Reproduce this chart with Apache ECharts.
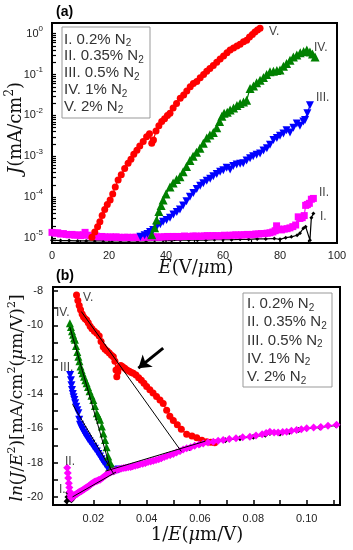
<!DOCTYPE html>
<html><head><meta charset="utf-8">
<script src="https://cdn.jsdelivr.net/npm/echarts@6/dist/echarts.min.js"></script>
<style>html,body{margin:0;padding:0;background:#fff}#c{width:353px;height:550px}</style>
</head><body><div id="c"></div>
<script>
// ---------- Panel (a): E (V/um) vs log10 J (mA/cm^2) ----------
const topV = [[14,-4.98],[15,-4.85],[16,-4.72],[16.8,-4.6],[17.6,-4.45],[18.5,-4.3],[19.4,-4.18],[20.4,-4.07],[21.3,-3.92],[22.2,-3.75],[23.2,-3.58],[24.3,-3.45],[25.5,-3.3],[26.7,-3.17],[27.7,-3.07],[28.7,-2.95],[29.8,-2.85],[30.8,-2.75],[32,-2.64],[33.2,-2.52],[34.2,-2.45],[35,-2.68],[35.6,-2.6],[36.5,-2.38],[37.5,-2.25],[38.5,-2.15],[39.5,-2.08],[40.5,-2.0],[41.4,-1.95],[42.5,-1.82],[43.7,-1.71],[45,-1.58],[46.2,-1.5],[47.3,-1.4],[48.5,-1.3],[49.6,-1.22],[50.8,-1.17],[52,-1.08],[53.2,-1.0],[54.3,-0.92],[55.4,-0.85],[56.6,-0.78],[57.8,-0.7],[59,-0.62],[60.2,-0.55],[61.4,-0.47],[62.5,-0.4],[63.7,-0.35],[64.9,-0.3],[66,-0.26],[67.2,-0.2],[68.3,-0.16],[69.3,-0.08],[70.3,-0.02],[71.2,0.04],[72.1,0.09],[73,0.13]];
const topIV = [[35,-4.92],[36,-4.75],[36.7,-4.56],[37.5,-4.35],[38.3,-4.2],[39,-4.07],[40,-3.92],[41.4,-3.75],[42.5,-3.65],[43.7,-3.57],[44.9,-3.5],[46,-3.38],[47.2,-3.25],[48.4,-3.1],[49.5,-3.0],[50.7,-2.9],[51.9,-2.8],[53.1,-2.68],[54.3,-2.55],[55.4,-2.48],[56.6,-2.42],[57.8,-2.3],[58.8,-2.15],[59.6,-2.02],[60.4,-1.95],[61.5,-1.92],[62.5,-1.87],[63.7,-1.82],[64.9,-1.76],[66,-1.71],[67.2,-1.67],[68.3,-1.63],[69.5,-1.34],[70.7,-1.28],[71.8,-1.2],[73,-1.14],[74.2,-1.07],[75.3,-1.0],[76.5,-0.93],[77.7,-0.92],[78.9,-0.9],[80,-0.89],[81.2,-0.8],[82.3,-0.73],[83.5,-0.65],[84.7,-0.57],[85.9,-0.52],[87.1,-0.47],[88.3,-0.44],[89.4,-0.4],[90.5,-0.45],[91.4,-0.5],[92.3,-0.57]];
const topIII = [[31,-4.97],[32.5,-4.93],[33.5,-4.9],[34.4,-4.85],[35.5,-4.8],[36.7,-4.73],[38,-4.66],[39,-4.6],[40.2,-4.56],[41.4,-4.5],[42.6,-4.42],[43.8,-4.36],[44.9,-4.3],[46,-4.2],[47.2,-4.1],[48.4,-3.99],[49.6,-3.9],[50.8,-3.8],[52,-3.72],[53.1,-3.66],[54.3,-3.6],[55.5,-3.55],[56.6,-3.49],[57.8,-3.43],[59,-3.38],[60.1,-3.34],[61.3,-3.28],[62.5,-3.32],[63.6,-3.24],[64.8,-3.2],[66,-3.18],[67.1,-3.17],[68.3,-3.1],[69.5,-3.05],[70.6,-3.0],[71.8,-2.96],[73,-2.93],[74.2,-2.86],[75.4,-2.8],[76.5,-2.72],[77.7,-2.6],[78.9,-2.55],[80,-2.5],[81.2,-2.44],[82.3,-2.36],[83.5,-2.42],[84.7,-2.3],[85.9,-2.2],[87,-2.25],[88.2,-2.15],[88.8,-2.11],[89.6,-1.95],[90.5,-1.75]];
const topII = [[0,-4.86],[1,-4.88],[2,-4.87],[3,-4.9],[4,-4.89],[5,-4.91],[6,-4.92],[7,-4.91],[8,-4.93],[9,-4.92],[10,-4.94],[11,-4.92],[11.6,-4.86],[12.5,-4.93],[13.5,-4.95],[14.5,-4.96],[15.5,-4.95],[16.5,-4.97],[17.5,-4.96],[18.5,-4.97],[19.5,-4.98],[20.5,-4.97],[21.5,-4.98],[22.5,-4.97],[23.5,-4.98],[24.5,-4.99],[25.5,-4.98],[26.5,-4.98],[27.5,-4.99],[28.5,-4.98],[29.5,-4.98],[30.5,-4.99],[31.5,-4.98],[32.5,-4.98],[33.5,-4.97],[34.5,-4.98],[35.5,-4.97],[36.5,-4.97],[37.5,-4.98],[38.5,-4.97],[39.5,-4.97],[40.5,-4.96],[41.5,-4.97],[42.5,-4.96],[43.5,-4.96],[44.5,-4.97],[45.5,-4.96],[46.5,-4.95],[47.5,-4.96],[48.5,-4.96],[49.5,-4.95],[50.5,-4.95],[51.5,-4.96],[52.5,-4.95],[53.5,-4.95],[54.5,-4.94],[55.5,-4.95],[56.5,-4.94],[57.5,-4.94],[58.5,-4.95],[59.5,-4.94],[60.5,-4.93],[61.5,-4.94],[62.5,-4.93],[63.5,-4.93],[64.5,-4.92],[65.5,-4.93],[66.5,-4.92],[67.5,-4.92],[68.5,-4.91],[69.5,-4.92],[70.5,-4.91],[71.5,-4.9],[72.5,-4.9],[73.5,-4.89],[74.5,-4.89],[75.5,-4.88],[76.5,-4.87],[77.5,-4.85],[78.3,-4.82],[78.8,-4.7],[79.5,-4.78],[80.5,-4.8],[81.5,-4.78],[82.5,-4.77],[83.5,-4.75],[84.5,-4.72],[85.5,-4.68],[86.4,-4.48],[87,-4.52],[87.8,-4.5],[88.5,-4.45],[89,-4.2],[89.6,-4.18],[90.3,-4.15],[91,-4.05],[91.7,-4.03]];
const topI = [[0,-5.05],[3,-5.06],[6,-5.06],[9,-5.07],[12,-5.07],[15,-5.07],[18,-5.07],[21,-5.07],[24,-5.07],[27,-5.07],[30,-5.07],[33,-5.07],[36,-5.06],[39,-5.06],[42,-5.06],[45,-5.05],[48,-5.05],[51,-5.05],[54,-5.05],[57,-5.04],[60,-5.04],[63,-5.04],[66,-5.03],[69,-5.03],[72,-5.02],[75,-5.02],[78,-5.01],[80,-5.03],[82,-4.99],[84,-4.97],[86,-4.93],[87,-4.88],[88.2,-4.76],[89,-4.72],[90.5,-5.05],[91,-4.5],[91.7,-4.4]];
const topYDecades = [-5,-4,-3,-2,-1,0];

// ---------- Panel (b): 1/E (um/V) vs ln(J/E^2) ----------
const botV = [[0.0137,-8.23],[0.0142,-8.55],[0.0147,-8.85],[0.0152,-9.1],[0.0158,-9.35],[0.0163,-9.5],[0.0169,-9.62],[0.0175,-9.69],[0.0181,-9.85],[0.0188,-10.05],[0.0195,-10.2],[0.0204,-10.35],[0.0213,-10.47],[0.0222,-10.62],[0.0229,-10.95],[0.0237,-11.25],[0.0244,-11.4],[0.0252,-11.5],[0.026,-11.62],[0.0268,-11.75],[0.0275,-11.83],[0.0281,-12.1],[0.0285,-12.6],[0.0288,-13.0],[0.0292,-12.7],[0.0297,-12.45],[0.0303,-12.35],[0.031,-12.42],[0.0318,-12.5],[0.0326,-12.6],[0.0335,-12.68],[0.0343,-12.75],[0.035,-12.8],[0.036,-12.9],[0.037,-13.05],[0.038,-13.2],[0.039,-13.38],[0.04,-13.57],[0.0412,-13.75],[0.0424,-13.95],[0.0437,-14.15],[0.045,-14.35],[0.0462,-14.55],[0.0475,-14.95],[0.0487,-15.3],[0.05,-15.55],[0.0515,-15.8],[0.053,-16.05],[0.055,-16.35],[0.057,-16.45],[0.0588,-16.55],[0.0607,-16.7],[0.0625,-16.78],[0.064,-16.82],[0.0655,-16.85]];
const botIV = [[0.0112,-9.88],[0.0116,-10.1],[0.012,-10.35],[0.0124,-10.55],[0.0128,-10.75],[0.0131,-10.85],[0.0135,-11.2],[0.014,-11.55],[0.0144,-11.83],[0.0148,-12.1],[0.0152,-12.4],[0.0156,-12.6],[0.016,-12.8],[0.0165,-13.0],[0.017,-13.2],[0.0175,-13.38],[0.018,-13.6],[0.0186,-13.85],[0.0193,-14.1],[0.02,-14.35],[0.0206,-14.7],[0.0213,-15.12],[0.0219,-15.3],[0.0225,-15.5],[0.0232,-15.9],[0.0238,-16.3],[0.0244,-16.68],[0.025,-17.1],[0.0256,-17.65],[0.0262,-17.95],[0.0269,-18.23],[0.0276,-18.35]];
const botIII = [[0.0113,-12.9],[0.0116,-13.2],[0.0118,-13.5],[0.012,-13.77],[0.0123,-14.0],[0.0126,-14.2],[0.0129,-14.35],[0.0132,-14.54],[0.0136,-14.75],[0.014,-14.95],[0.0144,-15.12],[0.0147,-15.5],[0.015,-15.8],[0.0155,-15.95],[0.016,-16.1],[0.0165,-16.25],[0.017,-16.38],[0.0175,-16.49],[0.018,-16.62],[0.0186,-16.75],[0.0193,-16.9],[0.02,-17.07],[0.0206,-17.2],[0.0213,-17.35],[0.0219,-17.5],[0.0225,-17.65],[0.0231,-17.8],[0.0237,-17.95],[0.0244,-18.1],[0.025,-18.23],[0.0256,-18.35],[0.0263,-18.45],[0.0269,-18.52],[0.0276,-18.5],[0.0285,-18.45],[0.0295,-18.4]];
const botII = [[0.0102,-18.3],[0.0104,-18.6],[0.0106,-18.9],[0.0108,-19.2],[0.011,-19.45],[0.0112,-19.7],[0.0114,-19.9],[0.0116,-20.02],[0.0118,-20.07],[0.012,-20.03],[0.0122,-20.0],[0.0124,-19.97],[0.0126,-19.95],[0.0128,-19.92],[0.013,-19.9],[0.0133,-19.87],[0.0135,-19.85],[0.0138,-19.82],[0.014,-19.8],[0.0143,-19.76],[0.0146,-19.72],[0.0149,-19.7],[0.0152,-19.68],[0.0155,-19.65],[0.0158,-19.62],[0.0162,-19.58],[0.0165,-19.55],[0.0169,-19.51],[0.0172,-19.48],[0.0176,-19.44],[0.018,-19.4],[0.0184,-19.35],[0.0188,-19.3],[0.0192,-19.25],[0.0196,-19.2],[0.0201,-19.16],[0.0205,-19.12],[0.021,-19.08],[0.0215,-19.05],[0.022,-19.02],[0.0225,-19.0],[0.0231,-18.92],[0.0237,-18.85],[0.0243,-18.78],[0.025,-18.7],[0.0256,-18.64],[0.0263,-18.58],[0.0269,-18.54],[0.0275,-18.5],[0.0282,-18.46],[0.029,-18.42],[0.0298,-18.38],[0.0306,-18.35],[0.0314,-18.32],[0.0322,-18.3],[0.0331,-18.27],[0.034,-18.25],[0.0348,-18.21],[0.0357,-18.18],[0.0366,-18.14],[0.0375,-18.1],[0.0385,-18.06],[0.0395,-18.02],[0.0405,-17.97],[0.0415,-17.93],[0.0425,-17.89],[0.0435,-17.85],[0.0445,-17.8],[0.0455,-17.75],[0.0466,-17.68],[0.0476,-17.62],[0.0488,-17.56],[0.05,-17.5],[0.0512,-17.41],[0.0525,-17.32],[0.0537,-17.24],[0.055,-17.17],[0.0565,-17.1],[0.058,-17.02],[0.0596,-16.95],[0.0612,-16.88],[0.063,-16.83],[0.065,-16.78],[0.0668,-16.73],[0.0687,-16.68],[0.071,-16.63],[0.0735,-16.58],[0.076,-16.53],[0.0787,-16.49],[0.081,-16.42],[0.0833,-16.35],[0.0848,-16.28],[0.0862,-16.2],[0.0878,-16.24],[0.0893,-16.25],[0.091,-16.22],[0.0925,-16.2],[0.0943,-16.15],[0.0962,-16.1],[0.098,-16.05],[0.1,-16.0],[0.1026,-15.96],[0.1053,-15.92],[0.108,-15.86],[0.1112,-15.8]];
const botI = [[0.01,-20.25],[0.0103,-20.0],[0.0106,-19.75],[0.0109,-19.9],[0.0113,-20.15],[0.0118,-20.2],[0.0124,-20.08],[0.013,-19.98],[0.0138,-19.88],[0.0146,-19.78],[0.0155,-19.68],[0.0165,-19.58],[0.0176,-19.46],[0.0188,-19.33],[0.02,-19.2],[0.0215,-19.07],[0.023,-18.92],[0.0246,-18.75],[0.0263,-18.6],[0.028,-18.48],[0.03,-18.4],[0.0322,-18.32],[0.0345,-18.25],[0.037,-18.15],[0.0395,-18.05],[0.0425,-17.92],[0.0455,-17.78],[0.0488,-17.58],[0.0525,-17.35],[0.056,-17.15],[0.06,-16.95],[0.0645,-16.82],[0.0695,-16.7],[0.075,-16.58],[0.08,-16.5],[0.0845,-16.38],[0.0862,-16.28],[0.09,-16.3],[0.0935,-16.22],[0.097,-16.1],[0.1,-16.02],[0.105,-15.95],[0.111,-15.83]];
const fitV = [[0.0155,-9.2],[0.053,-17.35]];
const fitIV = [[0.0112,-10.1],[0.0265,-18.4]];
const fitIII = [[0.0122,-14.6],[0.0278,-18.7]];
const fitLow = [[0.0122,-20.0],[0.0285,-18.55]];
const fitHigh = [[0.0245,-18.5],[0.062,-16.75]];
const arrowTail = [0.0462,-11.33];
const arrowHead = [0.0369,-12.5];
const botXTicks = [0.01,0.02,0.03,0.04,0.05,0.06,0.07,0.08,0.09,0.10,0.11];
const botXLabels = [0.02,0.04,0.06,0.08,0.10];
const botYTicks = [-20,-19,-18,-17,-16,-15,-14,-13,-12,-11,-10,-9,-8];
const botYLabels = [-20,-18,-16,-14,-12,-10,-8];

const legendLines = [['I. 0.2% N','2'],['II. 0.35% N','2'],['III. 0.5% N','2'],['IV. 1% N','2'],['V. 2% N','2']];

// ---------- build ----------
const SANS = 'Liberation Sans, Arial, sans-serif';
const SERIF = 'DejaVu Serif, serif';
const topYTicks = topYDecades.slice();
for (let n = -6; n <= 0; n++) for (let k = 2; k <= 9; k++) {
  const v = n + Math.log10(k);
  if (v > -5.12 && v < 0.26) topYTicks.push(v);
}

function axisBase(extra) {
  return Object.assign({
    type: 'value', splitLine: {show: false}, minorSplitLine: {show: false},
    axisLine: {show: true, onZero: false, lineStyle: {color: '#000', width: 2}},
  }, extra);
}
const lblStyle = {fontFamily: SANS, fontSize: 11, color: '#222'};

const chart = echarts.init(document.getElementById('c'), null, {renderer: 'canvas'});

function sc(name, data, xi, yi, color, symbol, size, z, rot) {
  return {type: 'line', name, data, xAxisIndex: xi, yAxisIndex: yi, symbol, symbolSize: size,
    symbolRotate: rot || 0, showSymbol: true, showAllSymbol: true, z: z, animation: false,
    itemStyle: {color}, lineStyle: {color, width: 1.2}};
}
function fit(data, xi, yi) {
  return {type: 'line', data, xAxisIndex: xi, yAxisIndex: yi, symbol: 'none', z: 20, animation: false,
    lineStyle: {color: '#000', width: 1}};
}

const legendRich = {
  t: {fontFamily: SANS, fontSize: 15, lineHeight: 18, fill: '#333'},
  s: {fontFamily: SANS, fontSize: 10, lineHeight: 10, verticalAlign: 'bottom', fill: '#333'}
};
function legendGraphics(x, y0, dy, box) {
  const g = [{type: 'rect', shape: box, style: {fill: '#fff', stroke: '#999', lineWidth: 1}, z: 100}];
  legendLines.forEach((l, i) => g.push({type: 'text', z: 101, x: x, y: y0 + i * dy,
    style: {text: '{t|' + l[0] + '}{s|' + l[1] + '}', rich: legendRich, align: 'left', verticalAlign: 'middle'}}));
  return g;
}
function lbl(x, y, t) {
  return {type: 'text', x, y, z: 101, style: {text: t, fontFamily: SANS, fontSize: 12, fill: '#444', align: 'left', verticalAlign: 'middle'}};
}
const titleRich = (fs) => ({
  i: {fontFamily: SERIF, fontStyle: 'italic', fontSize: fs, lineHeight: fs + 6, fill: '#111'},
  r: {fontFamily: SERIF, fontSize: fs, lineHeight: fs + 6, fill: '#111'},
  s: {fontFamily: SERIF, fontSize: Math.round(fs * 0.65), lineHeight: Math.round(fs * 0.65), verticalAlign: 'top', fill: '#111'}
});

const option = {
  animation: false,
  backgroundColor: '#fff',
  grid: [
    {left: 52, top: 23, width: 285, height: 220, show: true, borderColor: '#000', borderWidth: 2, backgroundColor: 'transparent'},
    {left: 53, top: 287, width: 287, height: 218, show: true, borderColor: '#000', borderWidth: 2, backgroundColor: 'transparent'}
  ],
  xAxis: [
    axisBase({gridIndex: 0, position: 'bottom', min: 0, max: 100, interval: 20,
      axisTick: {show: true, inside: true, length: 5, lineStyle: {color: '#000', width: 1.5}},
      minorTick: {show: true, splitNumber: 2, length: 3, lineStyle: {color: '#000', width: 1.2}},
      axisLabel: Object.assign({margin: 7}, lblStyle)}),
    axisBase({gridIndex: 1, position: 'bottom', min: 0.00488, max: 0.1125,
      axisTick: {show: true, inside: true, length: 5, customValues: botXTicks, lineStyle: {color: '#000', width: 1.5}},
      axisLabel: Object.assign({customValues: botXLabels, margin: 8, formatter: v => Number(v).toFixed(2)}, lblStyle)})
  ],
  yAxis: [
    axisBase({gridIndex: 0, position: 'left', min: -5.12, max: 0.26,
      axisTick: {show: true, inside: true, length: 4, customValues: topYTicks, lineStyle: {color: '#000', width: 1.2}},
      axisLabel: Object.assign({customValues: topYDecades, margin: 9,
        formatter: v => '{b|10}{p|' + Math.round(v) + '}',
        rich: {b: {fontFamily: SANS, fontSize: 11, lineHeight: 18, color: '#222'},
               p: {fontFamily: SANS, fontSize: 8, lineHeight: 9, verticalAlign: 'top', color: '#222'}}}, lblStyle)}),
    axisBase({gridIndex: 1, position: 'left', min: -20.47, max: -7.77,
      axisTick: {show: true, inside: true, length: 5, customValues: botYTicks, lineStyle: {color: '#000', width: 1.5}},
      axisLabel: Object.assign({customValues: botYLabels, margin: 10}, lblStyle)})
  ],
  series: [
    sc('I', topI, 0, 0, '#000', 'diamond', 4, 2),
    sc('II', topII, 0, 0, '#ff00ff', 'rect', 7, 3),
    sc('III', topIII, 0, 0, '#0000ff', 'triangle', 8, 4, 180),
    sc('IV', topIV, 0, 0, '#008000', 'triangle', 9, 5),
    sc('V', topV, 0, 0, '#ff0000', 'circle', 7, 6),
    sc('I', botI, 1, 1, '#000', 'diamond', 6, 2),
    sc('III', botIII, 1, 1, '#0000ff', 'triangle', 8, 4, 180),
    sc('IV', botIV, 1, 1, '#008000', 'triangle', 8, 5),
    sc('V', botV, 1, 1, '#ff0000', 'circle', 7, 6),
    sc('II', botII, 1, 1, '#ff00ff', 'diamond', 8, 7),
    fit(fitV, 1, 1), fit(fitIV, 1, 1), fit(fitIII, 1, 1), fit(fitLow, 1, 1),
    Object.assign(fit(fitHigh, 1, 1), {markLine: {silent: true, symbol: ['none', 'arrow'], symbolSize: 12,
      label: {show: false}, lineStyle: {color: '#000', width: 3, type: 'solid'},
      data: [[{coord: arrowTail}, {coord: arrowHead}]]}})
  ],
  graphic: [].concat(
    legendGraphics(64, 39.5, 16.8, {x: 62, y: 27, width: 88, height: 91}),
    legendGraphics(247, 304, 18.2, {x: 243, y: 293, width: 89, height: 94}),
    [
      {type: 'rect', shape: {x: 100, y: 12, width: 250, height: 9.5}, style: {fill: '#fff'}, z: 200, silent: true},
      lbl(269, 32, 'V.'), lbl(314, 48, 'IV.'), lbl(316, 98, 'III.'), lbl(319, 193, 'II.'), lbl(320, 217, 'I.'),
      lbl(83, 298, 'V.'), lbl(56, 313, 'IV.'), lbl(60, 368, 'III.'), lbl(65, 462, 'II.'), lbl(59, 490, 'I.'),
      {type: 'text', x: 56, y: 12, style: {text: '(a)', fontFamily: SANS, fontWeight: 'bold', fontSize: 14, fill: '#000', align: 'left', verticalAlign: 'middle'}},
      {type: 'text', x: 56, y: 276, style: {text: '(b)', fontFamily: SANS, fontWeight: 'bold', fontSize: 14, fill: '#000', align: 'left', verticalAlign: 'middle'}},
      {type: 'text', x: 16, y: 128, rotation: Math.PI / 2,
        style: {text: '{i|J}{r|(mA/cm}{s|2}{r|)}', rich: titleRich(18), align: 'center', verticalAlign: 'middle'}},
      {type: 'text', x: 196, y: 268,
        style: {text: '{i|E}{r|(V/}{i|μ}{r|m)}', rich: titleRich(18), align: 'center', verticalAlign: 'middle'}},
      {type: 'text', x: 18, y: 398, rotation: Math.PI / 2,
        style: {text: '{i|ln}{r|(}{i|J}{r|/}{i|E}{s|2}{r|)[mA/cm}{s|2}{r|(}{i|μ}{r|m/V)}{s|2}{r|]}', rich: titleRich(17), align: 'center', verticalAlign: 'middle'}},
      {type: 'text', x: 197, y: 535,
        style: {text: '{r|1/}{i|E}{r|(}{i|μ}{r|m/V)}', rich: titleRich(18), align: 'center', verticalAlign: 'middle'}}
    ]
  )
};
chart.setOption(option);
</script></body></html>
